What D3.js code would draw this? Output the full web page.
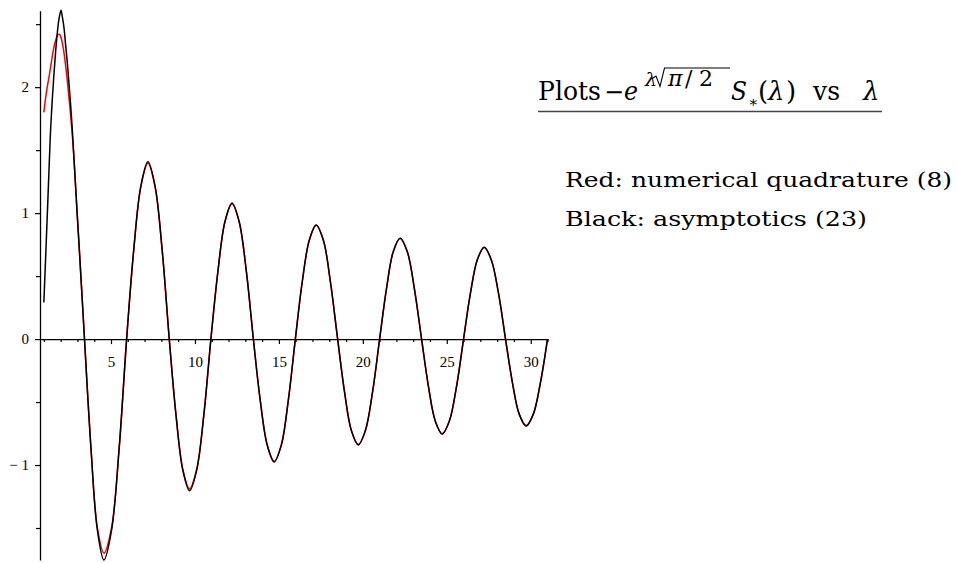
<!DOCTYPE html>
<html>
<head>
<meta charset="utf-8">
<script src="https://cdn.jsdelivr.net/npm/d3@7"></script>
<style>
  body { margin: 0; background: #fff; }
  text { fill: #000; }
  .tick text { font-family: "Liberation Serif", serif; font-size: 15px; }
  .label { font-family: "DejaVu Serif", serif; }
</style>
</head>
<body>
<svg id="chart" width="957" height="563"></svg>
<script>
const lamBlack = [1.0, 1.1, 1.2, 1.3, 1.4, 1.5, 1.6, 1.7, 1.8, 1.9, 2.02, 2.1, 2.2, 2.3, 2.4, 2.5, 2.6, 2.7, 2.8, 2.9,
  3.0, 3.1, 3.2, 3.3, 3.42, 3.81, 4.19, 4.58, 5.03, 5.48, 5.93, 6.35, 6.78, 7.2, 7.62, 8.05, 8.47, 8.87, 9.28, 9.68,
  10.1, 10.53, 10.95, 11.37, 11.79, 12.21, 12.63, 13.06, 13.48, 13.89, 14.31, 14.72, 15.14, 15.56, 15.98, 16.39,
  16.81, 17.22, 17.65, 18.07, 18.5, 18.91, 19.32, 19.73, 20.15, 20.58, 21.0, 21.41, 21.81, 22.22, 22.65, 23.07,
  23.5, 23.91, 24.32, 24.73, 25.15, 25.58, 26.0, 26.41, 26.82, 27.23, 27.65, 28.08, 28.5, 28.91, 29.32, 29.73,
  30.15, 30.58, 31.0];
const black = [0.29, 0.63, 0.97, 1.32, 1.66, 1.90, 2.10, 2.28, 2.43, 2.54, 2.61, 2.56, 2.47, 2.33, 2.19, 2.02, 1.85, 1.65, 1.42, 1.19,
  0.96, 0.74, 0.51, 0.28, 0, -0.877, -1.519, -1.754, -1.519, -0.877, 0, 0.704, 1.218, 1.407, 1.218, 0.704, 0, -0.602, -1.043, -1.204,
  -1.043, -0.602, 0, 0.54, 0.935, 1.08, 0.935, 0.54, 0, -0.488, -0.845, -0.976, -0.845, -0.488, 0, 0.453,
  0.784, 0.905, 0.784, 0.453, 0, -0.42, -0.727, -0.84, -0.727, -0.42, 0, 0.40, 0.693, 0.80, 0.693, 0.40,
  0, -0.377, -0.653, -0.754, -0.653, -0.377, 0, 0.364, 0.63, 0.728, 0.63, 0.364, 0, -0.345, -0.598, -0.69,
  -0.598, -0.345, 0];

const lamRed = [1.0, 1.1, 1.2, 1.33, 1.45, 1.56, 1.68, 1.8, 1.88, 1.96, 2.05, 2.18, 2.27, 2.36, 2.5, 2.6, 2.7, 2.8, 2.9,
  3.0, 3.1, 3.2, 3.3, 3.42, 3.81, 4.19, 4.58, 5.03, 5.48, 5.93, 6.35, 6.78, 7.2, 7.62, 8.05, 8.47, 8.87, 9.28, 9.68,
  10.1, 10.53, 10.95, 11.37, 11.79, 12.21, 12.63, 13.06, 13.48, 13.89, 14.31, 14.72, 15.14, 15.56, 15.98, 16.39,
  16.81, 17.22, 17.65, 18.07, 18.5, 18.91, 19.32, 19.73, 20.15, 20.58, 21.0, 21.41, 21.81, 22.22, 22.65, 23.07,
  23.5, 23.91, 24.32, 24.73, 25.15, 25.58, 26.0, 26.41, 26.82, 27.23, 27.65, 28.08, 28.5, 28.91, 29.32, 29.73,
  30.15, 30.58, 31.0];
const red = [1.80, 1.91, 2.00, 2.10, 2.20, 2.29, 2.36, 2.41, 2.42, 2.415, 2.38, 2.29, 2.20, 2.10, 1.91, 1.77, 1.61, 1.42, 1.19,
  0.96, 0.74, 0.51, 0.28, 0, -0.875, -1.50, -1.70, -1.50, -0.875, 0, 0.70, 1.21, 1.395, 1.21, 0.70, 0, -0.60, -1.035, -1.19,
  -1.035, -0.60, 0, 0.54, 0.93, 1.072, 0.93, 0.54, 0, -0.487, -0.842, -0.97, -0.842, -0.487, 0, 0.453,
  0.784, 0.903, 0.784, 0.453, 0, -0.42, -0.727, -0.838, -0.727, -0.42, 0, 0.40, 0.693, 0.80, 0.693, 0.40,
  0, -0.377, -0.653, -0.753, -0.653, -0.377, 0, 0.364, 0.63, 0.727, 0.63, 0.364, 0, -0.345, -0.598, -0.689,
  -0.598, -0.345, 0];

const xMajor = [5, 10, 15, 20, 25, 30];
const xMinor = d3.range(1, 32).filter(v => v % 5 !== 0);
const yMajor = [-1, 0, 1, 2];
const yMinor = [-1.5, -0.5, 0.5, 1.5, 2.5];

const svg = d3.select('#chart');

const x = d3.scaleLinear().domain([0.77, 31.03]).range([40, 548]);
const y = d3.scaleLinear().domain([-1.754, 2.607]).range([560, 10.7]);

// x axis through y = 0
const xg = svg.append('g').attr('transform', `translate(0,${y(0)})`);
xg.append('g')
  .call(d3.axisBottom(x).tickValues(xMinor).tickSize(3).tickSizeOuter(0).tickFormat(''))
  .call(g => g.select('.domain').remove());
xg.append('g')
  .call(d3.axisBottom(x).tickValues(xMajor).tickSize(5).tickSizeOuter(0).tickPadding(12))
  .call(g => g.select('.domain').attr('stroke-width', 1.3));

// y axis on the left edge
const yg = svg.append('g').attr('transform', `translate(${x.range()[0]},0)`);
yg.append('g')
  .call(d3.axisLeft(y).tickValues(yMinor).tickSize(4).tickSizeOuter(0).tickFormat(''))
  .call(g => g.select('.domain').remove());
yg.append('g')
  .call(d3.axisLeft(y).tickValues(yMajor).tickSize(5).tickSizeOuter(0).tickPadding(6)
    .tickFormat(d => d < 0 ? '\u2212 ' + Math.abs(d) : d))
  .call(g => g.select('.domain').attr('stroke-width', 1.3));

svg.selectAll('g[font-family]').attr('font-family', null).attr('font-size', null);
svg.selectAll('.tick line').attr('stroke-width', 1.2);

const line = d3.line()
  .x(d => x(d[0]))
  .y(d => y(d[1]))
  .curve(d3.curveCatmullRom.alpha(0.5));

svg.append('path')
  .datum(d3.zip(lamRed, red))
  .attr('fill', 'none')
  .attr('stroke', '#ff0000')
  .attr('stroke-width', 1.5)
  .attr('d', line);

svg.append('path')
  .datum(d3.zip(lamBlack, black))
  .attr('fill', 'none')
  .attr('stroke', '#000')
  .attr('stroke-width', 1.5)
  .attr('d', line);

// title:  Plots  -e^{lambda sqrt(pi/2)} S_*(lambda)  vs  lambda
const t = svg.append('g');
function txt(s, px, py, size, italic, len) {
  const el = t.append('text')
    .attr('class', 'label')
    .attr('x', px).attr('y', py)
    .style('font-size', size + 'px')
    .style('font-style', italic ? 'italic' : 'normal')
    .text(s);
  if (len) el.attr('textLength', len).attr('lengthAdjust', 'spacingAndGlyphs');
  return el;
}
txt('Plots', 538, 100, 26, false, 63);
txt('\u2212', 604, 100, 24, false);
txt('e', 624, 100, 26, true, 14);
txt('\u03bb', 645, 86, 19, true);
t.append('path')
  .attr('d', 'M653,78 L656,76 L660,86.5 L664.5,68 L730,68')
  .attr('fill', 'none').attr('stroke', '#000').attr('stroke-width', 1.1);
txt('\u03c0', 668, 86, 22, true);
txt('/', 685, 86, 22, false);
txt('2', 699, 86, 22, false);
txt('S', 731, 100, 26, true, 16);
txt('\u2217', 748, 107, 15, false);
txt('(', 758, 100, 26, false);
txt('\u03bb', 768, 100, 26, true);
txt(')', 786, 100, 26, false);
txt('vs', 813, 100, 26, false, 27);
txt('\u03bb', 863, 100, 26, true);
t.append('line')
  .attr('x1', 538).attr('x2', 882).attr('y1', 111.5).attr('y2', 111.5)
  .attr('stroke', '#444').attr('stroke-width', 1.5);

txt('Red: numerical quadrature (8)', 565, 187, 21, false, 387);
txt('Black: asymptotics (23)', 565, 226, 21, false, 302);
</script>
</body>
</html>
